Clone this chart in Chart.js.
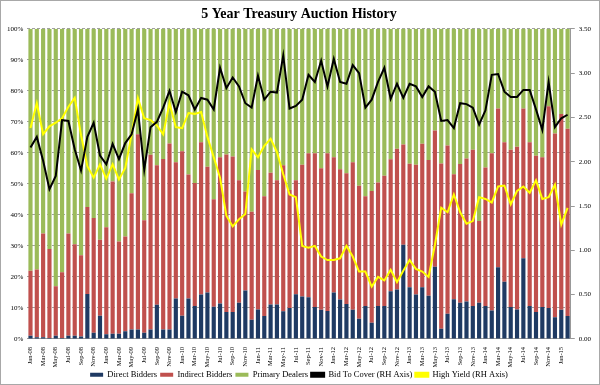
<!DOCTYPE html>
<html>
<head>
<meta charset="utf-8">
<script src="https://cdn.jsdelivr.net/npm/chart.js@4"></script>
<style>
  html, body { margin: 0; padding: 0; background: #fff; }
  #wrap { width: 600px; height: 385px; box-sizing: border-box; border: 1px solid #a8a8a8; position: relative; }
</style>
</head>
<body>
<div id="wrap"><canvas id="chart"></canvas></div>
<script>
const months = [
  "Jan-08","Feb-08","Mar-08","Apr-08","May-08","Jun-08","Jul-08","Aug-08","Sep-08","Oct-08","Nov-08","Dec-08",
  "Jan-09","Feb-09","Mar-09","Apr-09","May-09","Jun-09","Jul-09","Aug-09","Sep-09","Oct-09","Nov-09","Dec-09",
  "Jan-10","Feb-10","Mar-10","Apr-10","May-10","Jun-10","Jul-10","Aug-10","Sep-10","Oct-10","Nov-10","Dec-10",
  "Jan-11","Feb-11","Mar-11","Apr-11","May-11","Jun-11","Jul-11","Aug-11","Sep-11","Oct-11","Nov-11","Dec-11",
  "Jan-12","Feb-12","Mar-12","Apr-12","May-12","Jun-12","Jul-12","Aug-12","Sep-12","Oct-12","Nov-12","Dec-12",
  "Jan-13","Feb-13","Mar-13","Apr-13","May-13","Jun-13","Jul-13","Aug-13","Sep-13","Oct-13","Nov-13","Dec-13",
  "Jan-14","Feb-14","Mar-14","Apr-14","May-14","Jun-14","Jul-14","Aug-14","Sep-14","Oct-14","Nov-14","Dec-14",
  "Jan-15","Feb-15"
];

// share of each auction, %
const directBidders = [
  1, 0.5, 0.5, 0.3, 1, 0.3, 1, 1, 0.8, 14.5, 2, 7.5,
  1.5, 1.7, 1.7, 2.5, 3, 3, 2, 3, 11, 3, 3, 13,
  7.5, 13, 10.6, 14.3, 15, 10.4, 11.4, 8.7, 8.7, 11.7, 15.6, 6.2,
  9.5, 7.4, 11.1, 11.1, 8.9, 10, 14.4, 13.7, 13.4, 10.3, 9.4, 9,
  15, 12.7, 11.3, 9.4, 6.5, 10.6, 5.2, 10.6, 10.6, 15.4, 15.9, 30.4,
  16.7, 14.3, 16.7, 13.9, 23.3, 3.3, 8.1, 12.8, 11.7, 12.1, 10.6, 11.7,
  10.6, 9.2, 23.1, 18.4, 10.3, 9.5, 26, 10.6, 8.7, 10.3, 10, 7,
  9.4, 7.4
];
const indirectBidders = [
  21, 21.9, 33.5, 28.7, 16, 21.2, 33, 29.5, 26.2, 28, 37, 24.5,
  34.5, 49.1, 29.7, 30.5, 44, 63, 36.3, 56.4, 45, 55, 60, 44,
  53, 40, 39.7, 49.1, 40.5, 34.6, 47.2, 50.8, 50.1, 39.5, 31.9, 34.8,
  45, 38.6, 42.5, 40.1, 47.1, 38, 36.8, 42.5, 46.5, 49.6, 45.6, 50.9,
  43.6, 42, 42.1, 47.6, 42.9, 35.4, 42.5, 39.8, 42, 42.5, 45.4, 32.3,
  39.8, 41.9, 46.2, 43.8, 43.9, 53.3, 54.3, 40.3, 44.7, 46.1, 50.4, 26.3,
  44.7, 50.7, 51.2, 45, 50.7, 52.5, 48.3, 52.8, 50.4, 48.3, 65, 59.2,
  63.1, 60.4
];
const primaryDealers = [
  78, 77.6, 66, 71, 83, 78.5, 66, 69.5, 73, 57.5, 61, 68,
  64, 49.2, 68.6, 67, 53, 34, 61.7, 40.6, 44, 42, 37, 43,
  39.5, 47, 49.7, 36.6, 44.5, 55, 41.4, 40.5, 41.2, 48.8, 52.5, 59,
  45.5, 54, 46.4, 48.8, 44, 52, 48.8, 43.8, 40.1, 40.1, 45, 40.1,
  41.4, 45.3, 46.6, 43, 50.6, 54, 52.3, 49.6, 47.4, 42.1, 38.7, 37.3,
  43.5, 43.8, 37.1, 42.3, 32.8, 43.4, 37.6, 46.9, 43.6, 41.8, 39, 62,
  44.7, 40.1, 25.7, 36.6, 39, 38, 25.7, 36.6, 40.9, 41.4, 25, 33.8,
  27.5, 32.2
];

// right-hand axis
const bidToCover = [
  2.16, 2.28, 2.01, 1.69, 1.84, 2.47, 2.46, 2.14, 1.90, 2.28, 2.44, 2.07,
  1.97, 2.20, 2.03, 2.21, 2.31, 2.59, 1.91, 2.39, 2.45, 2.61, 2.80, 2.56,
  2.79, 2.75, 2.59, 2.72, 2.70, 2.59, 3.06, 2.83, 2.95, 2.85, 2.66, 2.61,
  2.97, 2.70, 2.79, 2.78, 3.20, 2.60, 2.63, 2.70, 2.98, 2.90, 3.14, 2.85,
  3.16, 2.90, 2.88, 3.09, 3.00, 2.61, 2.70, 2.90, 3.06, 2.71, 2.88, 2.72,
  2.88, 2.85, 2.73, 2.85, 2.79, 2.46, 2.47, 2.38, 2.66, 2.65, 2.61, 2.42,
  2.58, 2.98, 2.99, 2.79, 2.73, 2.73, 2.81, 2.81, 2.59, 2.36, 2.90, 2.39,
  2.49, 2.53
];
const highYield = [
  2.38, 2.66, 2.31, 2.40, 2.44, 2.49, 2.62, 2.72, 2.30, 1.95, 1.82, 1.97,
  1.81, 1.97, 1.80, 1.93, 2.31, 2.72, 2.49, 2.47, 2.41, 2.31, 2.66, 2.39,
  2.38, 2.55, 2.54, 2.56, 2.28, 2.05, 1.82, 1.39, 1.27, 1.35, 1.41, 2.14,
  2.05, 2.18, 2.26, 2.11, 1.86, 1.63, 1.60, 1.05, 1.03, 1.05, 0.93, 0.89,
  0.89, 0.91, 1.05, 0.93, 0.76, 0.76, 0.59, 0.70, 0.66, 0.78, 0.64, 0.77,
  0.89, 0.79, 0.76, 0.70, 1.06, 1.48, 1.43, 1.63, 1.43, 1.30, 1.33, 1.60,
  1.58, 1.54, 1.72, 1.73, 1.52, 1.67, 1.72, 1.65, 1.79, 1.58, 1.60, 1.74,
  1.29, 1.48
];

const serif = "'Liberation Serif', 'Times New Roman', serif";

const barStyle = { type: "bar", yAxisID: "y", order: 1, barPercentage: 0.66, categoryPercentage: 1, borderWidth: 0 };
const lineStyle = { type: "line", yAxisID: "y2", order: 0, pointRadius: 0, borderWidth: 2, tension: 0, fill: false };

// the legend box is a bit taller than the original's, shave it
const tightLegend = {
  id: "tightLegend",
  beforeInit(chart) {
    const fit = chart.legend.fit;
    chart.legend.fit = function () {
      fit.call(this);
      this.height -= 6;
    };
  }
};

new Chart(document.getElementById("chart"), {
  data: {
    labels: months,
    datasets: [
      { ...barStyle, label: "Direct Bidders", data: directBidders, backgroundColor: "#1f3a63" },
      { ...barStyle, label: "Indirect Bidders", data: indirectBidders, backgroundColor: "#c0504d" },
      { ...barStyle, label: "Primary Dealers", data: primaryDealers, backgroundColor: "#9bbb59" },
      { ...lineStyle, label: "Bid To Cover (RH Axis)", data: bidToCover, borderColor: "#000000", backgroundColor: "#000000" },
      { ...lineStyle, label: "High Yield (RH Axis)", data: highYield, borderColor: "#ffff00", backgroundColor: "#ffff00" }
    ]
  },
  plugins: [tightLegend],
  options: {
    responsive: true,
    maintainAspectRatio: false,
    animation: false,
    layout: { padding: { left: 2, right: 4, top: 0, bottom: 1 } },
    plugins: {
      title: {
        display: true,
        text: "5 Year Treasury Auction History",
        color: "#000",
        font: { family: serif, size: 14, weight: "bold" },
        padding: { top: 5, bottom: 6 }
      },
      legend: {
        position: "bottom",
        labels: {
          font: { family: serif, size: 8.5 },
          color: "#000",
          boxWidth: 13,
          boxHeight: 4,
          padding: 3,
          sort: (a, b) => a.datasetIndex - b.datasetIndex
        }
      },
      tooltip: { enabled: false }
    },
    scales: {
      x: {
        stacked: true,
        grid: { display: false },
        border: { color: "#999" },
        ticks: {
          autoSkip: false,
          maxRotation: 90,
          minRotation: 90,
          padding: 0,
          color: "#000",
          font: { family: serif, size: 6.5 },
          callback: function (val, i) { return i % 2 === 0 ? this.getLabelForValue(val) : ""; }
        }
      },
      y: {
        stacked: true,
        min: 0,
        max: 100,
        position: "left",
        border: { display: false, dash: [3, 2] },
        grid: { color: "#888", lineWidth: 0.8, drawTicks: false },
        ticks: {
          stepSize: 10,
          padding: 4,
          color: "#000",
          font: { family: serif, size: 7 },
          callback: v => v + "%"
        }
      },
      y2: {
        min: 0,
        max: 3.5,
        position: "right",
        border: { color: "#999" },
        grid: { drawOnChartArea: false, tickLength: 4, color: "#999" },
        ticks: {
          stepSize: 0.5,
          padding: 4,
          color: "#000",
          font: { family: serif, size: 7 },
          callback: v => v.toFixed(2)
        }
      }
    }
  }
});
</script>
</body>
</html>
